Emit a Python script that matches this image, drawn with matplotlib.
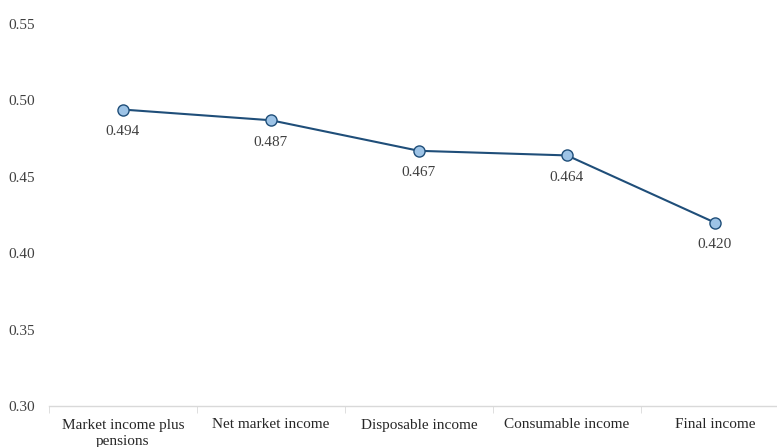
import numpy as np
import matplotlib.pyplot as plt

plt.rcParams['font.family'] = ['Liberation Serif', 'DejaVu Serif']
plt.rcParams['font.size'] = 11

categories = ["Market income plus\npensions", "Net market income", "Disposable income",
              "Consumable income", "Final income"]
values = [0.494, 0.487, 0.467, 0.464, 0.420]
y_ticks = [0.30, 0.35, 0.40, 0.45, 0.50, 0.55]

fig = plt.figure(figsize=(7.77, 4.47), dpi=100)
ax = fig.add_axes([49 / 777, 41 / 447, 740 / 777, 382 / 447])

x = np.arange(len(categories))
ax.plot(x, values, color="#1F4E79", linewidth=1.5, marker="o", markersize=8,
        markerfacecolor="#9DC3E6", markeredgecolor="#1F4E79", markeredgewidth=1.0)

for xi, v in zip(x, values):
    ax.annotate(f"{v:.3f}", (xi, v), xytext=(0, -11), textcoords="offset points",
                ha="center", va="top", color="#404040", fontsize=11)

ax.set_xlim(-0.5, len(categories) - 0.5)
ax.set_ylim(0.30, 0.55)
ax.set_yticks(y_ticks)
ax.set_yticklabels([f"{t:.2f}" for t in y_ticks], color="#404040")
ax.set_xticks(x)
ax.set_xticklabels(categories, color="#262626", linespacing=1.3)
ax.set_xticks(np.arange(-0.5, len(categories), 1.0), minor=True)
ax.tick_params(axis="x", which="major", length=0, pad=9)
ax.tick_params(axis="x", which="minor", length=5, color="#D9D9D9", direction="out")
ax.tick_params(axis="y", length=0, pad=10)

for s in ["top", "right", "left"]:
    ax.spines[s].set_visible(False)
ax.spines["bottom"].set_color("#D9D9D9")
ax.spines["bottom"].set_linewidth(1.0)

fig.savefig("out.png", dpi=100)
